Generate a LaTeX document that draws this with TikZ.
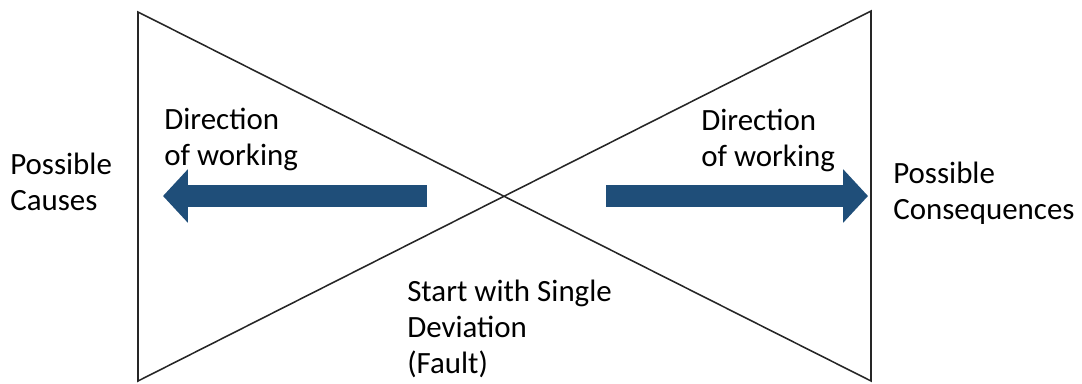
\documentclass[tikz,border=0pt]{standalone}
\usepackage{fontspec}
\setmainfont{Carlito}
\usepackage{tikz}
\usetikzlibrary{arrows.meta, positioning, calc}
\definecolor{arrowblue}{HTML}{1F4E79}
\tikzset{
  label/.style={inner sep=0pt, anchor=base west, align=left, font=\fontsize{22}{25.6}\selectfont},
  bowtie/.style={line width=1.1pt, black!85, line join=miter},
  work/.style={line width=0.55cm, arrowblue, -{Triangle[length=0.62cm, width=1.3cm]}},
}

\begin{document}
\begin{tikzpicture}[x=0.025cm, y=-0.025cm]
  \useasboundingbox (0,0) rectangle (1082,383);

  % corners of the bow tie
  \coordinate (tl) at (138,12);
  \coordinate (bl) at (138,381);
  \coordinate (tr) at (871,11);
  \coordinate (br) at (871,381);
  \draw[bowtie] (tl) -- (br) -- (tr) -- (bl) -- cycle;

  % arrows, both starting near the centre
  \coordinate (lstart) at (427,196);
  \coordinate (lend) at (163,196);
  \coordinate (rstart) at (606,196);
  \coordinate (rend) at (868,196);
  \draw[work] (lstart) -- (lend);
  \draw[work] (rstart) -- (rend);

  % base anchor sits on the last line
  \node[label] (causes) at (10,210) {Possible\\Causes};
  \node[label] (dirl) at (164,165) {Direction\\of working};
  \node[label] (dirr) at (701,166) {Direction\\of working};
  \node[label] (cons) at (893,219) {Possible\\Consequences};
  \node[label] (fault) at (407,373) {Start with Single\\Deviation\\(Fault)};
\end{tikzpicture}
\end{document}
